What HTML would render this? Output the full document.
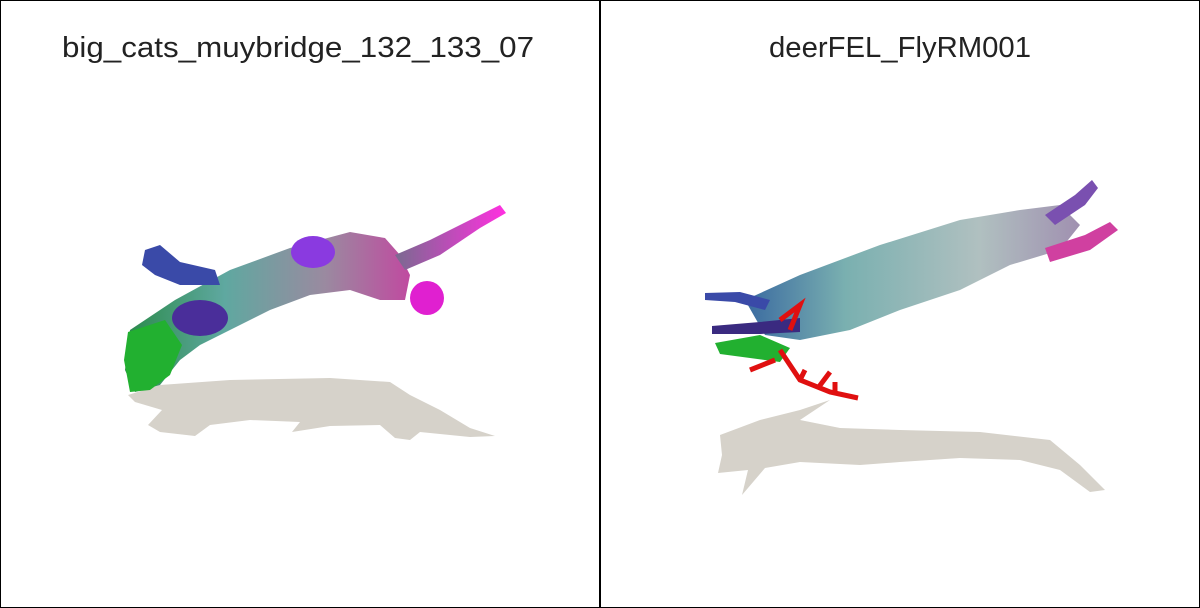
<!DOCTYPE html>
<html><head><meta charset="utf-8"><style>
html,body{margin:0;padding:0;background:#fff;}
svg{display:block;}
text{font-family:"Liberation Sans",sans-serif;fill:#222;}
</style></head><body>
<svg width="1200" height="608" viewBox="0 0 1200 608">
<defs>
<linearGradient id="catBody" x1="0" y1="0" x2="1" y2="0">
<stop offset="0" stop-color="#2a8a4a"/><stop offset="0.35" stop-color="#5fa8a0"/><stop offset="0.7" stop-color="#9a8aa0"/><stop offset="1" stop-color="#c04aa0"/></linearGradient>
<linearGradient id="tail" x1="0" y1="0" x2="1" y2="0"><stop offset="0" stop-color="#7a6a90"/><stop offset="1" stop-color="#ff30e0"/></linearGradient>
<linearGradient id="deerBody" x1="0" y1="0" x2="1" y2="0">
<stop offset="0" stop-color="#3a6aa0"/><stop offset="0.3" stop-color="#7ab0b0"/><stop offset="0.7" stop-color="#b0c0c0"/><stop offset="1" stop-color="#a090b0"/></linearGradient>
</defs>
<rect x="0.5" y="0.5" width="1199" height="607" fill="#fff" stroke="#000"/>
<line x1="600" y1="0" x2="600" y2="608" stroke="#000" stroke-width="2"/>

<g>
<text x="298" y="57" font-size="29" text-anchor="middle" textLength="472" lengthAdjust="spacingAndGlyphs">big_cats_muybridge_132_133_07</text>
<path fill="#d6d2ca" d="M128 395 L160 385 L230 380 L330 378 L390 382 L410 395 L440 410 L470 428 L495 436 L470 437 L420 432 L410 440 L395 438 L380 425 L330 426 L292 432 L300 422 L250 420 L210 425 L195 436 L160 432 L148 425 L162 410 L135 402 Z"/>
<path fill="url(#catBody)" d="M130 330 L175 300 L230 270 L290 248 L350 232 L385 238 L400 255 L410 275 L405 300 L380 300 L350 290 L310 295 L270 310 L230 330 L200 345 L180 360 L160 385 L135 392 L125 370 Z"/>
<path fill="#22b030" d="M128 332 L165 320 L182 345 L170 375 L150 390 L130 392 L124 360 Z"/>
<path fill="url(#tail)" d="M395 255 L430 240 L470 220 L500 205 L506 213 L480 228 L440 255 L405 270 Z"/>
<path fill="#3a4aa8" d="M145 250 L160 245 L180 262 L215 270 L220 285 L180 285 L155 275 L142 265 Z"/>
<ellipse cx="200" cy="318" rx="28" ry="18" fill="#4a2e9a"/>
<ellipse cx="313" cy="252" rx="22" ry="16" fill="#8a3ae0"/>
<ellipse cx="427" cy="298" rx="17" ry="17" fill="#e020d0"/>
</g>

<g>
<text x="900" y="57" font-size="29" text-anchor="middle" textLength="262" lengthAdjust="spacingAndGlyphs">deerFEL_FlyRM001</text>
<path fill="#d6d2ca" d="M720 435 L760 420 L800 410 L830 400 L800 420 L840 428 L900 430 L980 432 L1050 440 L1080 465 L1105 490 L1090 492 L1060 470 L1020 460 L960 458 L900 462 L860 465 L800 462 L765 468 L742 495 L748 470 L718 473 L722 455 Z"/>
<path fill="url(#deerBody)" d="M745 300 L800 275 L880 245 L960 220 L1020 210 L1060 205 L1080 225 L1060 250 L1010 265 L960 290 L900 310 L850 330 L800 340 L765 335 Z"/>
<path fill="#7a50b0" d="M1045 215 L1075 195 L1092 180 L1098 188 L1085 205 L1055 225 Z"/>
<path fill="#d040a0" d="M1045 248 L1085 235 L1110 222 L1118 230 L1090 250 L1050 262 Z"/>
<path fill="#3a4aa8" d="M705 293 L740 292 L770 300 L765 310 L735 302 L705 300 Z"/>
<path fill="#3a2a80" d="M712 326 L760 322 L800 318 L800 332 L760 334 L712 334 Z"/>
<path fill="#22b030" d="M715 343 L760 335 L790 348 L780 362 L750 358 L720 354 Z"/>
<path fill="none" stroke="#e01010" stroke-width="5" d="M780 350 L800 380 L830 392 L858 398 M800 380 L805 370 M818 388 L830 372 M835 392 L835 382 M775 360 L750 370 M780 320 L800 305 L790 330"/>
</g>
</svg>
</body></html>
